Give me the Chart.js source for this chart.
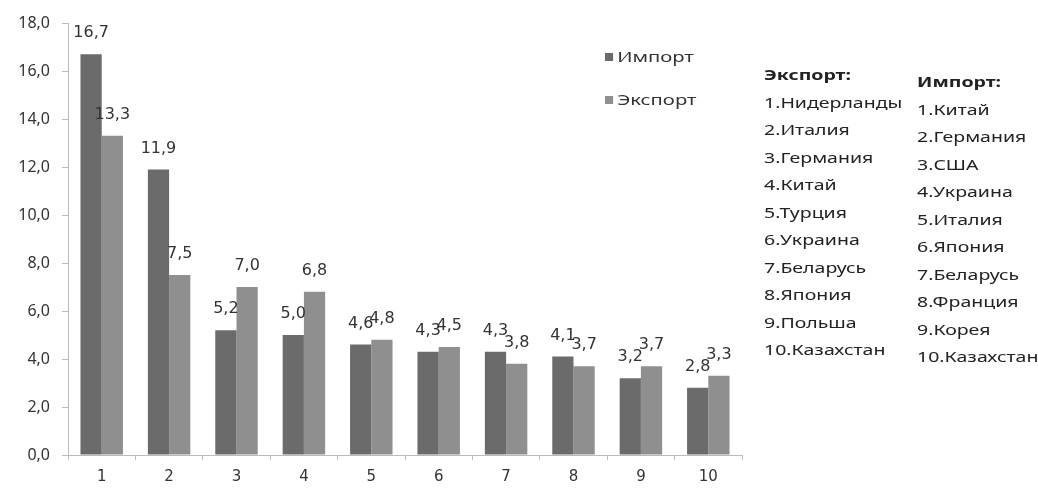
<!DOCTYPE html>
<html>
<head>
<meta charset="utf-8">
<script src="https://cdn.jsdelivr.net/npm/chart.js@4"></script>
<style>
  body { margin: 0; background: #fff; font-family: "Noto Sans", sans-serif; color: #333; }
  #wrap { position: relative; width: 1038px; height: 490px; }
  #chart-canvas { position: absolute; left: 0; top: 0; }
  .legend { position: absolute; left: 605px; font-size: 15px; color: #333; transform: scaleX(1.35); transform-origin: left center; }
  .legend span { display: inline-block; width: 6px; height: 8px; margin-right: 3px; vertical-align: 1px; }
  .list { position: absolute; font-size: 15px; line-height: 27.5px; color: #222; transform: scaleX(1.3); transform-origin: left top; }
  .list b { font-weight: bold; }
</style>
</head>
<body>
<div id="wrap">
  <canvas id="chart-canvas" width="1038" height="490"></canvas>
  <div class="legend" style="top:46px"><span style="background:#6b6b6b"></span>Импорт</div>
  <div class="legend" style="top:89px"><span style="background:#8f8f8f"></span>Экспорт</div>
  <div class="list" id="export-list" style="left:764px; top:61px"></div>
  <div class="list" id="import-list" style="left:917px; top:68px"></div>
</div>
<script>
const categories = ["1", "2", "3", "4", "5", "6", "7", "8", "9", "10"];
const importValues = [16.7, 11.9, 5.2, 5.0, 4.6, 4.3, 4.3, 4.1, 3.2, 2.8];
const exportValues = [13.3, 7.5, 7.0, 6.8, 4.8, 4.5, 3.8, 3.7, 3.7, 3.3];
const yTicks = [0, 2, 4, 6, 8, 10, 12, 14, 16, 18];
const exportCountries = ["Нидерланды", "Италия", "Германия", "Китай", "Турция", "Украина", "Беларусь", "Япония", "Польша", "Казахстан"];
const importCountries = ["Китай", "Германия", "США", "Украина", "Италия", "Япония", "Беларусь", "Франция", "Корея", "Казахстан"];

const fmt = v => v.toFixed(1).replace(".", ",");

document.querySelector("#export-list").innerHTML =
  "<b>Экспорт:</b><br>" + exportCountries.map((c, i) => `${i + 1}.${c}`).join("<br>");
document.querySelector("#import-list").innerHTML =
  "<b>Импорт:</b><br>" + importCountries.map((c, i) => `${i + 1}.${c}`).join("<br>");

// value labels above bars
const barLabels = {
  id: "barLabels",
  afterDatasetsDraw(chart) {
    const ctx = chart.ctx;
    ctx.save();
    ctx.font = "16px 'DejaVu Sans'";
    ctx.fillStyle = "#333";
    ctx.textAlign = "center";
    ctx.textBaseline = "bottom";
    chart.data.datasets.forEach((ds, di) => {
      chart.getDatasetMeta(di).data.forEach((bar, i) => {
        ctx.fillText(fmt(ds.data[i]), bar.x, bar.y - 13);
      });
    });
    ctx.restore();
  }
};

new Chart(document.querySelector("#chart-canvas"), {
  type: "bar",
  data: {
    labels: categories,
    datasets: [
      { label: "Импорт", data: importValues, backgroundColor: "#6b6b6b" },
      { label: "Экспорт", data: exportValues, backgroundColor: "#8f8f8f" }
    ]
  },
  options: {
    responsive: false,
    animation: false,
    datasets: { bar: { categoryPercentage: 0.63, barPercentage: 1 } },
    layout: { padding: { top: 23, right: 296, bottom: 0, left: 0 } },
    plugins: { legend: { display: false }, tooltip: { enabled: false } },
    scales: {
      x: {
        afterFit: s => { s.height = 35; },
        grid: { display: true, drawOnChartArea: false, offset: true, tickLength: 5, color: "#bbb" },
        border: { color: "#bbb" },
        ticks: { color: "#333", font: { size: 15, family: "DejaVu Sans" }, padding: 8 }
      },
      y: {
        min: 0,
        max: 18,
        afterFit: s => { s.width = 68; },
        afterBuildTicks: s => { s.ticks = yTicks.map(v => ({ value: v })); },
        grid: { drawOnChartArea: false, tickLength: 6, color: "#bbb" },
        border: { color: "#bbb" },
        ticks: { color: "#333", font: { size: 16, family: "Noto Sans" }, padding: 12, callback: v => fmt(v) }
      }
    }
  },
  plugins: [barLabels]
});
</script>
</body>
</html>
